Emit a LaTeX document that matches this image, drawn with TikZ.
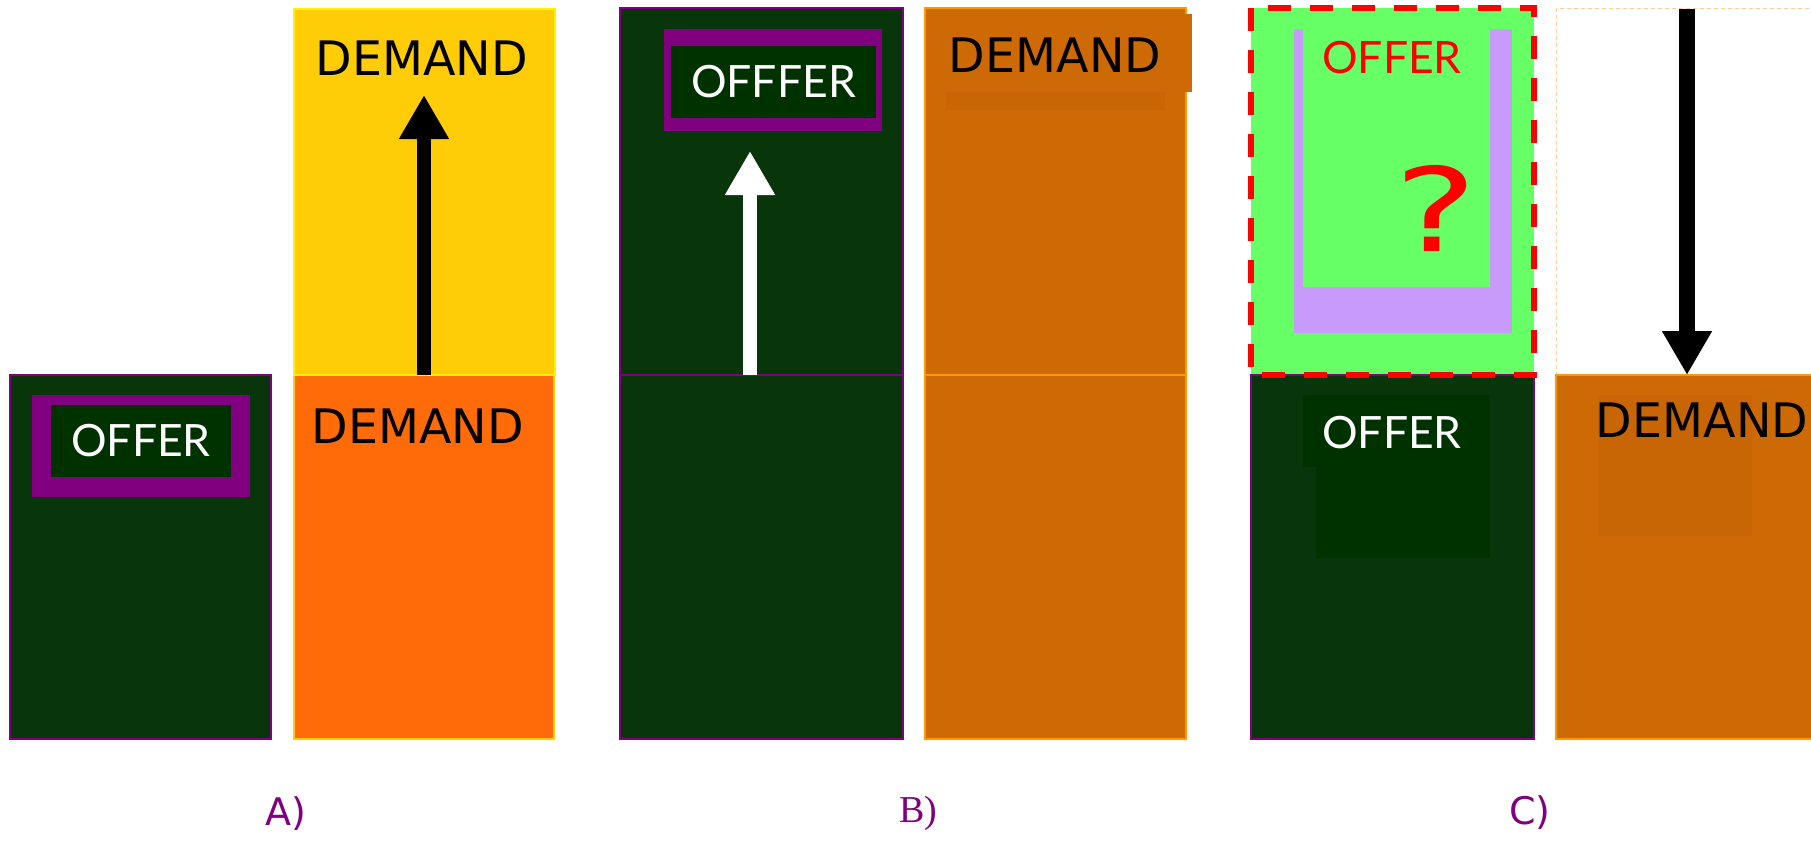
\documentclass[tikz,border=0pt]{standalone}
\usepackage{fontspec}
\setmainfont{DejaVu Sans}
\newfontfamily\offerfont{Lato}
\newfontfamily\seriffont{Liberation Serif}
\usepackage{tikz}
\usetikzlibrary{arrows.meta, positioning}

\definecolor{darkgreen}{RGB}{8,54,10}
\definecolor{deepgreen}{RGB}{0,50,0}
\definecolor{plum}{RGB}{128,0,128}
\definecolor{gold}{RGB}{255,204,8}
\definecolor{hotorange}{RGB}{255,107,8}
\definecolor{burnt}{RGB}{206,106,6}
\definecolor{burntdark}{RGB}{200,101,4}
\definecolor{lightgreen}{RGB}{102,255,102}
\definecolor{lavender}{RGB}{200,155,250}
\definecolor{edgeorange}{RGB}{255,153,0}
\definecolor{paleorange}{RGB}{255,204,153}

\tikzset{
  block/.style={rectangle, inner sep=0pt, outer sep=0pt, anchor=north west},
  demandtext/.style={font=\fontsize{47.5}{52}\selectfont, text=black},
  offertext/.style={font=\offerfont\fontsize{44.5}{50}\selectfont, text=white},
  tag/.style={font=\fontsize{38}{42}\selectfont, text=plum},
  bigarrow/.style={line width=14pt, -{Triangle[width=47pt,length=44pt]}}
}

\begin{document}
\begin{tikzpicture}[x=1pt,y=-1pt]
        \useasboundingbox (0,0) rectangle (1811,840);
%	A
        \node[block, fill=darkgreen, draw=plum, line width=1.5pt, minimum width=261pt, minimum height=364pt] (offerA) at (10,375) {};
        \node[block, fill=plum, minimum width=218pt, minimum height=102pt] (frameA) at (32,395) {};
        \node[block, fill=deepgreen, minimum width=180pt, minimum height=72pt] (boxA) at (51,405) {};
        \node[offertext] at (boxA.center) {OFFER};
        \node[block, fill=hotorange, draw=gold, line width=1.5pt, minimum width=260pt, minimum height=364pt] (demandA) at (294,375) {};
        \node[block, fill=gold, draw=yellow, line width=1.5pt, minimum width=261pt, minimum height=366pt] (goalA) at (294,9) {};
        \node[demandtext] (lowA) at (418,426) {DEMAND};
        \node[demandtext] (highA) at (422,58) {DEMAND};
        \coordinate (tipA) at (424,95);
        \draw[bigarrow, black] (demandA.north) -- (tipA);
%	B
        \node[block, fill=darkgreen, draw=plum, line width=1.5pt, minimum width=283pt, minimum height=367pt] (offerBup) at (620,8) {};
        \node[block, fill=darkgreen, draw=plum, line width=1.5pt, minimum width=283pt, minimum height=364pt] (offerB) at (620,375) {};
        \node[block, fill=plum, minimum width=218pt, minimum height=102pt] (frameB) at (664,29) {};
        \node[block, fill=deepgreen, minimum width=205pt, minimum height=72pt] (boxB) at (671,46) {};
        \node[offertext] at (boxB.center) {OFFFER};
        \coordinate (baseB) at (750,375);
        \coordinate (tipB) at (750,151);
        \draw[bigarrow, white] (baseB) -- (tipB);
        \node[block, fill=burnt, draw=edgeorange, line width=1.5pt, minimum width=261pt, minimum height=367pt] (demandBup) at (925,8) {};
        \node[block, fill=burnt, draw=edgeorange, line width=1.5pt, minimum width=261pt, minimum height=364pt] (demandB) at (925,375) {};
        \node[block, fill=burntdark, minimum width=219pt, minimum height=96pt] at (946,14) {};
        \node[block, fill=burnt, minimum width=246pt, minimum height=78pt] (labelB) at (946,14) {};
        \node[demandtext] at (1055,55) {DEMAND};
%	C
        \node[block, fill=lightgreen, minimum width=283pt, minimum height=367pt] (offerCup) at (1251,8) {};
        \node[block, fill=darkgreen, draw=plum, line width=1.5pt, minimum width=283pt, minimum height=364pt] (offerC) at (1251,375) {};
        \draw[red, line width=6pt, dash pattern=on 23pt off 19pt] (offerCup.north west) rectangle (offerCup.south east);
        \node[block, fill=lavender, minimum width=218pt, minimum height=304pt] (cupC) at (1294,29) {};
        \node[block, fill=lightgreen, minimum width=187pt, minimum height=258pt] (innerC) at (1303,29) {};
        \node[offertext, text=red] at (1392,58) {OFFER};
        \node[font=\fontsize{116}{120}\selectfont, text=red] (ask) at (1436,208) {\scalebox{1.35}[1]{?}};
        \node[block, fill=deepgreen, minimum width=187pt, minimum height=72pt] at (1303,395) {};
        \node[block, fill=deepgreen, minimum width=174pt, minimum height=91pt] at (1316,467) {};
        \node[offertext] at (1392,433) {OFFER};
        \node[block, draw=paleorange, dash pattern=on 4pt off 3pt, line width=1pt, minimum width=262pt, minimum height=366pt] (goalC) at (1556,9) {};
        \node[block, fill=burnt, draw=edgeorange, line width=1.5pt, minimum width=262pt, minimum height=364pt] (demandC) at (1556,375) {};
        \node[block, fill=burntdark, minimum width=154pt, minimum height=141pt] at (1598,395) {};
        \node[demandtext] at (1702,420) {DEMAND};
        \coordinate (topC) at (1687,9);
        \draw[bigarrow, black, line width=16pt] (topC) -- (demandC.north);
%	tags
        \node[tag] (tagA) at (286,814) {A)};
        \node[tag, font=\seriffont\fontsize{38}{42}\selectfont] (tagB) at (918,813) {B)};
        \node[tag] (tagC) at (1530,813) {C)};
\end{tikzpicture}
\end{document}
